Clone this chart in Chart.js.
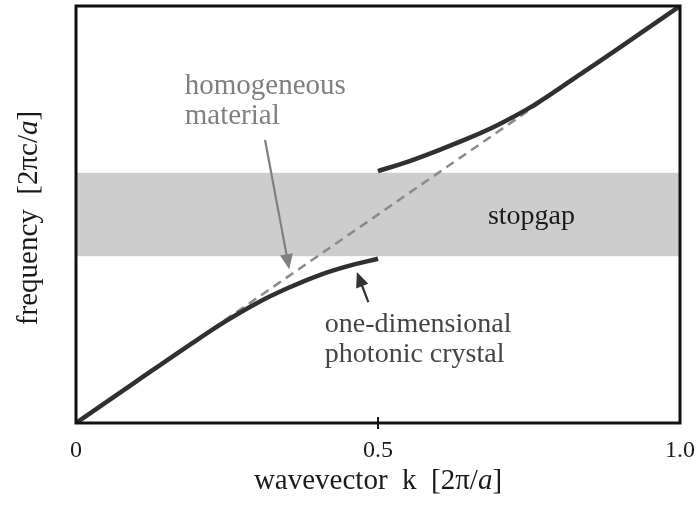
<!DOCTYPE html>
<html>
<head>
<meta charset="utf-8">
<script src="https://cdn.jsdelivr.net/npm/chart.js@4/dist/chart.umd.min.js"></script>
<style>
  html, body { margin: 0; padding: 0; background: #fff; }
  #wrap { width: 700px; height: 510px; position: relative; }
</style>
</head>
<body>
<div id="wrap"><canvas id="c" width="700" height="510"></canvas></div>
<script>
// Wavevector k in units of 2π/a, frequency in units of 2πc/a
const lowerK    = [0, 0.10, 0.20, 0.25, 0.30, 0.35, 0.40, 0.45, 0.50];
const lowerFreq = [0, 0.10, 0.199, 0.246, 0.288, 0.323, 0.353, 0.376, 0.394];

const upperK    = [0.50, 0.55, 0.60, 0.65, 0.70, 0.75, 0.80, 0.85, 0.90, 1.00];
const upperFreq = [0.604, 0.627, 0.654, 0.683, 0.716, 0.755, 0.802, 0.851, 0.90, 1.00];

// light line of a homogeneous material
const lightK    = [0, 1];
const lightFreq = [0, 1];

// photonic band gap
const gapRange = [0.40, 0.60];

const xTicks      = [0, 0.5, 1.0];
const xTickLabels = ['0', '0.5', '1.0'];

const toPoints = (ks, fs) => ks.map((k, i) => ({ x: k, y: fs[i] }));

const SERIF = '"Liberation Serif", "DejaVu Serif", serif';

// text notes and arrows, placed in data coordinates
const notes = [
  { lines: ['homogeneous', 'material'], k: 0.180, f: 0.808, step: 0.072, color: '#808080', size: 29 },
  { lines: ['one-dimensional', 'photonic crystal'], k: 0.412, f: 0.235, step: 0.070, color: '#444444', size: 28 },
  { lines: ['stopgap'], k: 0.682, f: 0.496, step: 0, color: '#1a1a1a', size: 28 }
];
const arrows = [
  { from: [0.313, 0.679], to: [0.353, 0.369], color: '#808080' },
  { from: [0.484, 0.290], to: [0.465, 0.362], color: '#333333' }
];

const framePlugin = {
  id: 'frame',
  beforeDatasetsDraw(chart) {
    const { ctx, chartArea: a, scales: { y } } = chart;
    const top = y.getPixelForValue(gapRange[1]);
    const bot = y.getPixelForValue(gapRange[0]);
    ctx.save();
    ctx.fillStyle = '#cdcdcd';
    ctx.fillRect(a.left, top, a.right - a.left, bot - top);
    ctx.restore();
  },
  afterDatasetsDraw(chart) {
    const { ctx, chartArea: a, scales: { x, y } } = chart;
    ctx.save();
    // box around the plot
    ctx.strokeStyle = '#111';
    ctx.lineWidth = 3;
    ctx.strokeRect(a.left, a.top, a.right - a.left, a.bottom - a.top);
    // tick mark at the zone edge
    const xm = x.getPixelForValue(0.5);
    ctx.lineWidth = 2;
    ctx.beginPath();
    ctx.moveTo(xm, a.bottom - 6);
    ctx.lineTo(xm, a.bottom + 6);
    ctx.stroke();

    // notes
    ctx.textBaseline = 'middle';
    ctx.textAlign = 'left';
    notes.forEach(n => {
      ctx.fillStyle = n.color;
      ctx.font = n.size + 'px ' + SERIF;
      n.lines.forEach((t, i) => {
        ctx.fillText(t, x.getPixelForValue(n.k), y.getPixelForValue(n.f - i * n.step));
      });
    });

    // arrows
    arrows.forEach(ar => {
      const x0 = x.getPixelForValue(ar.from[0]), y0 = y.getPixelForValue(ar.from[1]);
      const x1 = x.getPixelForValue(ar.to[0]),   y1 = y.getPixelForValue(ar.to[1]);
      const ang = Math.atan2(y1 - y0, x1 - x0);
      const hl = 15, hw = 6.5;
      ctx.strokeStyle = ar.color;
      ctx.fillStyle = ar.color;
      ctx.lineWidth = 2.2;
      ctx.beginPath();
      ctx.moveTo(x0, y0);
      ctx.lineTo(x1 - Math.cos(ang) * hl * 0.8, y1 - Math.sin(ang) * hl * 0.8);
      ctx.stroke();
      ctx.beginPath();
      ctx.moveTo(x1, y1);
      ctx.lineTo(x1 - Math.cos(ang) * hl - Math.sin(ang) * hw, y1 - Math.sin(ang) * hl + Math.cos(ang) * hw);
      ctx.lineTo(x1 - Math.cos(ang) * hl + Math.sin(ang) * hw, y1 - Math.sin(ang) * hl - Math.cos(ang) * hw);
      ctx.closePath();
      ctx.fill();
    });

    // axis titles with italic a
    const drawMixed = (parts, cx, cy) => {
      let w = 0;
      parts.forEach(p => { ctx.font = p.f; w += ctx.measureText(p.t).width; });
      let px = cx - w / 2;
      parts.forEach(p => {
        ctx.font = p.f;
        ctx.fillText(p.t, px, cy);
        px += ctx.measureText(p.t).width;
      });
    };
    const up = '29px ' + SERIF, it = 'italic 29px ' + SERIF;
    ctx.fillStyle = '#1a1a1a';
    drawMixed([{ t: 'wavevector  k  [2π/', f: up }, { t: 'a', f: it }, { t: ']', f: up }],
              (a.left + a.right) / 2, 481);
    ctx.save();
    ctx.translate(29, 218);
    ctx.rotate(-Math.PI / 2);
    drawMixed([{ t: 'frequency  [2πc/', f: up }, { t: 'a', f: it }, { t: ']', f: up }], 0, 0);
    ctx.restore();
    ctx.restore();
  }
};

new Chart(document.getElementById('c'), {
  type: 'scatter',
  data: {
    datasets: [
      {
        label: 'homogeneous material',
        data: toPoints(lightK, lightFreq),
        showLine: true,
        borderColor: '#8a8a8a',
        borderWidth: 2.5,
        borderDash: [9, 6],
        pointRadius: 0,
        order: 2
      },
      {
        label: 'lower band',
        data: toPoints(lowerK, lowerFreq),
        showLine: true,
        borderColor: '#303030',
        borderWidth: 4.5,
        cubicInterpolationMode: 'monotone',
        pointRadius: 0,
        order: 1
      },
      {
        label: 'upper band',
        data: toPoints(upperK, upperFreq),
        showLine: true,
        borderColor: '#303030',
        borderWidth: 4.5,
        cubicInterpolationMode: 'monotone',
        pointRadius: 0,
        order: 1
      }
    ]
  },
  plugins: [framePlugin],
  options: {
    responsive: false,
    animation: false,
    layout: { padding: { top: 6, right: 20, left: 0, bottom: 0 } },
    plugins: { legend: { display: false }, tooltip: { enabled: false } },
    scales: {
      x: {
        type: 'linear', min: 0, max: 1,
        grid: { display: false, drawTicks: false },
        border: { display: false },
        afterBuildTicks: s => { s.ticks = xTicks.map(v => ({ value: v })); },
        afterFit: s => { s.height = 87; s.paddingLeft = 0; s.paddingRight = 0; },
        ticks: {
          padding: 13,
          color: '#1a1a1a',
          font: { family: SERIF, size: 24 },
          callback: (v) => xTickLabels[xTicks.indexOf(v)] ?? ''
        }
      },
      y: {
        type: 'linear', min: 0, max: 1,
        grid: { display: false, drawTicks: false },
        border: { display: false },
        ticks: { display: false },
        afterFit: s => { s.width = 76; s.paddingTop = 0; s.paddingBottom = 0; }
      }
    }
  }
});
</script>
</body>
</html>
